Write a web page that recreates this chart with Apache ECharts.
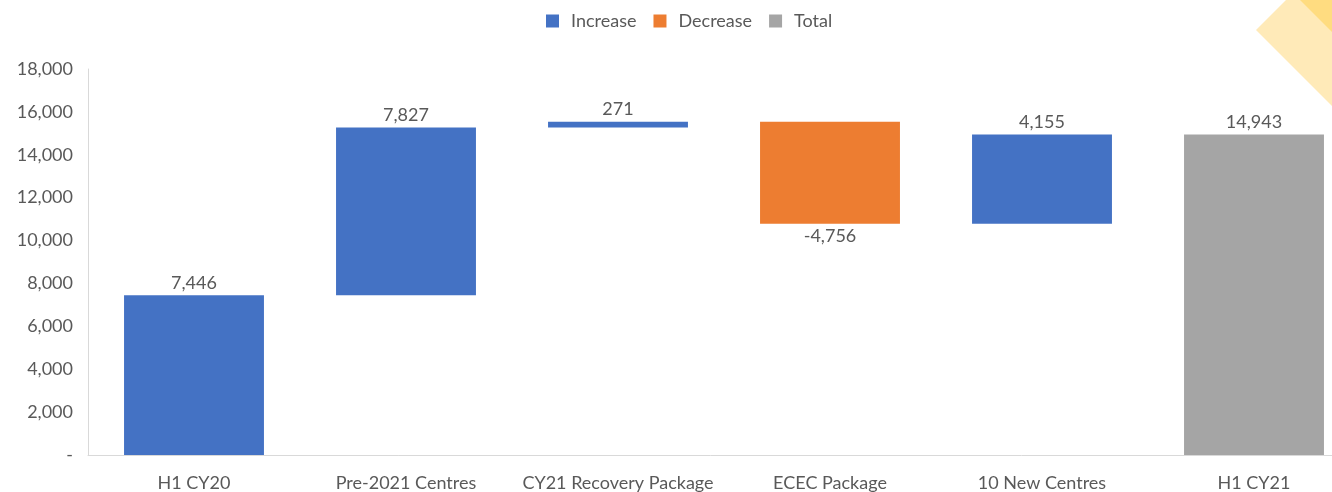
<!DOCTYPE html>
<html>
<head>
<meta charset="utf-8">
<script src="https://cdn.jsdelivr.net/npm/echarts@6/dist/echarts.min.js"></script>
<style>
  html, body { margin: 0; padding: 0; background: #fff; }
  #chart { width: 1332px; height: 492px; }
</style>
</head>
<body>
<div id="chart"></div>
<script>
const categories = ['H1 CY20', 'Pre-2021 Centres', 'CY21 Recovery Package', 'ECEC Package', '10 New Centres', 'H1 CY21'];
// change per step; the last item is the running total
const changes = [7446, 7827, 271, -4756, 4155, 14943];
const isTotal = [false, false, false, false, false, true];
const yTicks = { min: 0, max: 18000, interval: 2000 };

const fmt = v => v.toLocaleString('en-US');

// build stacked waterfall pieces
let running = 0;
const baseData = [], incData = [], decData = [], totData = [];
changes.forEach((v, i) => {
    if (isTotal[i]) {
        baseData.push(0);
        incData.push('-'); decData.push('-');
        totData.push(v);
        running = v;
    } else if (v >= 0) {
        baseData.push(running);
        incData.push(v); decData.push('-'); totData.push('-');
        running += v;
    } else {
        running += v;
        baseData.push(running);
        decData.push(-v); incData.push('-'); totData.push('-');
    }
});

const textColor = '#595959';
const font = 'Lato';
const fs = 18;

const chart = echarts.init(document.getElementById('chart'));
chart.setOption({
    animation: false,
    textStyle: { fontFamily: font },
    legend: {
        left: 541,
        top: 7,
        itemWidth: 13,
        itemHeight: 13,
        itemGap: 17,
        icon: 'rect',
        data: ['Increase', 'Decrease', 'Total'],
        textStyle: { color: textColor, fontSize: fs, fontFamily: font, padding: [0, 0, 0, 7] }
    },
    // the plot runs past the right edge of the picture
    grid: { left: 88, top: 69, bottom: 37, right: -28, outerBoundsMode: 'none', containLabel: false },
    xAxis: {
        type: 'category',
        data: categories,
        axisLine: { lineStyle: { color: '#D9D9D9' } },
        axisTick: { show: false },
        axisLabel: { color: textColor, fontSize: fs, margin: 19, interval: 0 }
    },
    yAxis: {
        type: 'value',
        min: yTicks.min, max: yTicks.max, interval: yTicks.interval,
        splitLine: { show: false },
        axisLine: { show: true, lineStyle: { color: '#D9D9D9' } },
        axisTick: { show: false },
        axisLabel: {
            color: textColor, fontSize: fs, margin: 15,
            formatter: v => v === 0 ? '-' : fmt(v)
        }
    },
    series: [
        {
            name: 'base', type: 'bar', stack: 'w', silent: true,
            barCategoryGap: '34%',
            itemStyle: { color: 'transparent' },
            data: baseData
        },
        {
            name: 'Increase', type: 'bar', stack: 'w',
            itemStyle: { color: '#4472C4' },
            label: { show: true, position: 'top', distance: 3, color: textColor, fontSize: fs, formatter: p => fmt(p.value) },
            data: incData
        },
        {
            name: 'Decrease', type: 'bar', stack: 'w',
            itemStyle: { color: '#ED7D31' },
            label: { show: true, position: 'bottom', distance: 4, color: textColor, fontSize: fs, formatter: p => fmt(-p.value) },
            data: decData
        },
        {
            name: 'Total', type: 'bar', stack: 'w',
            itemStyle: { color: '#A5A5A5' },
            label: { show: true, position: 'top', distance: 3, color: textColor, fontSize: fs, formatter: p => fmt(p.value) },
            data: totData
        }
    ],
    graphic: [
        {
            type: 'polygon', silent: true, z: -1,
            shape: { points: [[1256, 30], [1286, 0], [1332, 0], [1332, 106]] },
            style: { fill: '#FFEAB8' }
        },
        {
            type: 'polygon', silent: true, z: -1,
            shape: { points: [[1300, 0], [1332, 0], [1332, 32]] },
            style: { fill: '#FFDC80' }
        }
    ]
});
</script>
</body>
</html>
